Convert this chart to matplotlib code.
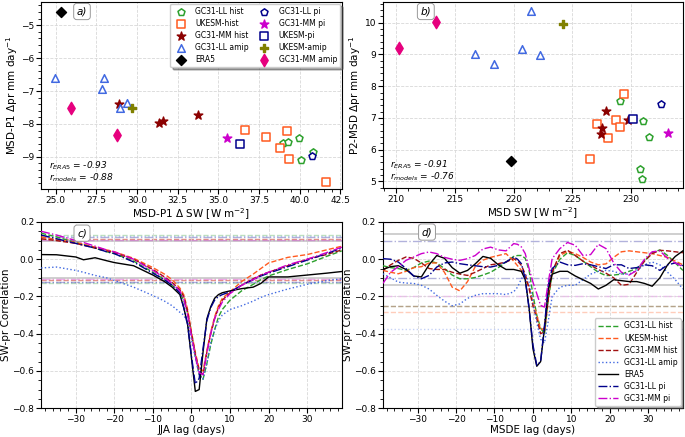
import numpy as np
import matplotlib.pyplot as plt

# ---- panel a: MSD-P1 (x = delta SW, y = delta pr) ----
ll_hist_a_x = [38.97, 39.30, 39.95, 40.84, 40.08]
ll_hist_a_y = [-8.57, -8.55, -8.44, -8.85, -9.11]
uk_hist_a_x = [36.65, 37.94, 39.21, 38.78, 39.38, 41.64]
uk_hist_a_y = [-8.18, -8.39, -8.20, -8.73, -9.05, -9.75]
mm_hist_a_x = [28.90, 31.33, 31.61, 33.73]
mm_hist_a_y = [-7.39, -7.98, -7.90, -7.74]
ll_amip_a_x = [24.98, 27.98, 27.85, 28.94, 29.37]
ll_amip_a_y = [-6.59, -6.59, -6.95, -7.51, -7.37]
era5_a_x = [25.35]
era5_a_y = [-4.59]
ll_pi_a_x = [40.75]
ll_pi_a_y = [-8.97]
mm_pi_a_x = [35.52]
mm_pi_a_y = [-8.44]
uk_pi_a_x = [36.34]
uk_pi_a_y = [-8.60]
uk_amip_a_x = [29.70]
uk_amip_a_y = [-7.51]
mm_amip_a_x = [25.92, 28.76]
mm_amip_a_y = [-7.51, -8.35]

# ---- panel b: P2-MSD ----
ll_hist_b_x = [229.03, 231.04, 231.55, 230.73, 230.90]
ll_hist_b_y = [7.54, 6.91, 6.39, 5.38, 5.08]
uk_hist_b_x = [229.37, 228.69, 227.05, 229.03, 228.04, 226.53]
uk_hist_b_y = [7.75, 6.93, 6.80, 6.71, 6.38, 5.69]
mm_hist_b_x = [227.84, 227.47, 227.39, 229.74]
mm_hist_b_y = [7.23, 6.67, 6.50, 6.94]
ll_amip_b_x = [221.46, 216.69, 218.28, 220.72, 222.20]
ll_amip_b_y = [10.37, 9.00, 8.71, 9.18, 8.98]
era5_b_x = [219.81]
era5_b_y = [5.65]
ll_pi_b_x = [232.52]
ll_pi_b_y = [7.44]
mm_pi_b_x = [233.09]
mm_pi_b_y = [6.52]
uk_pi_b_x = [230.14]
uk_pi_b_y = [6.96]
uk_amip_b_x = [224.21]
uk_amip_b_y = [9.95]
mm_amip_b_x = [210.23, 213.37]
mm_amip_b_y = [9.20, 10.01]

# ---- panel c: JJA lag correlation ----
lags_c = [-39, -35, -30, -28, -25, -22, -20, -15, -10, -7, -5, -3, -2, -1, 0,
          1, 2, 3, 4, 5, 6, 7, 8, 10, 13, 16, 18, 20, 25, 30, 35, 39]
ll_hist_c = [0.14, 0.12, 0.09, 0.08, 0.06, 0.04, 0.03, -0.01, -0.07, -0.11, -0.14,
             -0.18, -0.22, -0.29, -0.40, -0.52, -0.62, -0.645, -0.56, -0.46, -0.38,
             -0.31, -0.27, -0.22, -0.17, -0.135, -0.11, -0.09, -0.055, -0.025, 0.015, 0.045]
uk_hist_c = [0.12, 0.105, 0.09, 0.08, 0.065, 0.05, 0.04, 0.005, -0.045, -0.08, -0.11,
             -0.155, -0.19, -0.27, -0.39, -0.50, -0.59, -0.60, -0.49, -0.39, -0.31,
             -0.25, -0.21, -0.175, -0.12, -0.08, -0.05, -0.02, 0.01, 0.025, 0.05, 0.07]
mm_hist_c = [0.11, 0.10, 0.085, 0.075, 0.06, 0.045, 0.035, 0.0, -0.055, -0.095, -0.125,
             -0.165, -0.20, -0.28, -0.40, -0.51, -0.60, -0.62, -0.50, -0.40, -0.32,
             -0.26, -0.22, -0.18, -0.14, -0.105, -0.085, -0.07, -0.035, 0.0, 0.025, 0.05]
ll_amip_c = [-0.047, -0.042, -0.06, -0.07, -0.087, -0.10, -0.114, -0.15, -0.195, -0.225,
             -0.25, -0.285, -0.30, -0.34, -0.43, -0.53, -0.62, -0.645, -0.56, -0.45,
             -0.38, -0.33, -0.30, -0.27, -0.25, -0.225, -0.205, -0.19, -0.16, -0.135,
             -0.115, -0.105]
era5_c = [0.025, 0.024, 0.012, -0.003, 0.008, -0.008, -0.018, -0.035, -0.085, -0.12,
          -0.15, -0.19, -0.26, -0.35, -0.53, -0.71, -0.70, -0.50, -0.32, -0.255, -0.21,
          -0.19, -0.18, -0.17, -0.158, -0.15, -0.13, -0.095, -0.095, -0.085, -0.075, -0.066]
ll_pi_c = [0.13, 0.11, 0.085, 0.075, 0.06, 0.04, 0.03, -0.015, -0.075, -0.11, -0.14,
           -0.18, -0.26, -0.35, -0.52, -0.67, -0.64, -0.48, -0.33, -0.26, -0.22, -0.20,
           -0.19, -0.175, -0.14, -0.11, -0.09, -0.075, -0.04, -0.005, 0.03, 0.06]
mm_pi_c = [0.15, 0.13, 0.10, 0.09, 0.07, 0.05, 0.04, 0.0, -0.06, -0.10, -0.13, -0.17,
           -0.21, -0.30, -0.41, -0.52, -0.61, -0.62, -0.50, -0.40, -0.32, -0.27, -0.23,
           -0.185, -0.14, -0.11, -0.085, -0.07, -0.03, 0.0, 0.035, 0.065]

# ---- panel d: MSDE lag correlation ----
lags_d = [-39, -37, -35, -33, -31, -29, -27, -25, -23, -21, -19, -17, -15, -13, -11,
          -9, -7, -5, -4, -3, -2, -1, 0, 1, 2, 3, 4, 5, 7, 9, 11, 13, 15, 17, 19, 21,
          23, 25, 27, 29, 31, 33, 35, 37, 39]
ll_hist_d = [-0.035, -0.045, -0.05, -0.06, -0.045, -0.02, -0.01, -0.02, -0.05, -0.085,
             -0.105, -0.105, -0.098, -0.085, -0.07, -0.045, -0.015, 0.015, 0.02, 0.02,
             0.005, -0.06, -0.19, -0.30, -0.37, -0.40, -0.22, -0.08, 0.0, 0.035, 0.02,
             -0.01, -0.04, -0.07, -0.088, -0.085, -0.08, -0.065, -0.05, -0.01, 0.035,
             0.05, 0.02, -0.02, -0.06]
uk_hist_d = [-0.06, -0.07, -0.078, -0.065, -0.045, -0.04, -0.02, -0.02, -0.07, -0.15,
             -0.17, -0.12, -0.04, -0.005, 0.01, 0.02, 0.03, -0.01, -0.035, -0.06, -0.10,
             -0.15, -0.23, -0.30, -0.38, -0.37, -0.20, -0.07, 0.02, 0.042, 0.03, 0.01,
             -0.015, -0.03, -0.025, 0.01, 0.04, 0.045, 0.04, 0.035, 0.03, 0.02, 0.01,
             -0.01, -0.03]
mm_hist_d = [-0.06, -0.03, -0.006, 0.012, 0.005, -0.02, -0.05, -0.055, -0.055, -0.07,
             -0.08, -0.087, -0.07, -0.05, -0.03, -0.024, -0.015, 0.003, -0.01, -0.033,
             -0.08, -0.158, -0.25, -0.32, -0.40, -0.39, -0.21, -0.07, 0.03, 0.048, 0.02,
             -0.01, -0.033, -0.055, -0.075, -0.10, -0.14, -0.135, -0.07, -0.01, 0.03,
             0.048, 0.045, 0.04, 0.035]
ll_amip_d = [-0.078, -0.10, -0.123, -0.128, -0.13, -0.14, -0.16, -0.194, -0.225, -0.25,
             -0.24, -0.21, -0.194, -0.185, -0.185, -0.185, -0.19, -0.175, -0.15, -0.105,
             -0.078, -0.123, -0.23, -0.34, -0.43, -0.45, -0.33, -0.20, -0.15, -0.14,
             -0.14, -0.11, -0.08, -0.065, -0.06, -0.065, -0.08, -0.08, -0.06, -0.03,
             -0.015, -0.03, -0.07, -0.11, -0.16]
era5_d = [-0.055, -0.04, -0.035, -0.055, -0.09, -0.095, -0.03, 0.02, 0.005, -0.045,
          -0.075, -0.06, -0.025, 0.015, 0.005, -0.03, -0.055, -0.055, -0.06, -0.065,
          -0.11, -0.26, -0.48, -0.575, -0.55, -0.37, -0.16, -0.08, -0.065, -0.065, -0.09,
          -0.11, -0.13, -0.16, -0.14, -0.11, -0.115, -0.12, -0.12, -0.13, -0.145, -0.10,
          -0.03, 0.015, 0.045]
ll_pi_d = [0.003, 0.0, -0.015, -0.05, -0.09, -0.105, -0.087, -0.042, -0.02, -0.015,
           -0.024, -0.03, -0.035, -0.04, -0.042, -0.033, -0.015, 0.012, 0.0, -0.024,
           -0.105, -0.266, -0.46, -0.57, -0.55, -0.356, -0.14, -0.05, -0.015, -0.03,
           -0.033, -0.024, -0.03, -0.04, -0.05, -0.03, -0.03, -0.05, -0.045, -0.03,
           -0.035, -0.06, -0.03, -0.02, -0.035]
mm_pi_d = [-0.13, -0.07, -0.04, -0.006, 0.012, 0.03, 0.039, 0.03, 0.01, 0.0, -0.006,
           0.003, 0.02, 0.055, 0.065, 0.05, 0.045, 0.084, 0.08, 0.066, 0.03, -0.05,
           -0.123, -0.185, -0.248, -0.257, -0.123, 0.003, 0.057, 0.09, 0.075, 0.02,
           0.025, 0.08, 0.057, -0.02, -0.07, -0.085, -0.06, 0.0, 0.04, 0.045, 0.005,
           -0.02, -0.04]

# significance levels (one per series)
sig_c = {"GC31-LL hist": 0.13, "UKESM-hist": 0.11, "GC31-MM hist": 0.11,
         "GC31-LL amip": 0.125, "ERA5": 0.10, "GC31-LL pi": 0.12, "GC31-MM pi": 0.105}
sig_d = {"GC31-LL hist": 0.25, "UKESM-hist": 0.285, "GC31-MM hist": 0.25,
         "GC31-LL amip": 0.375, "ERA5": 0.137, "GC31-LL pi": 0.10, "GC31-MM pi": 0.20}

# styles
scatter_styles = {
    "GC31-LL hist": dict(marker="p", color="#2ca02c", hollow=True, s=28),
    "UKESM-hist": dict(marker="s", color="#ff5a1f", hollow=True, s=30),
    "GC31-MM hist": dict(marker="*", color="#8b0000", hollow=False, s=42),
    "GC31-LL amip": dict(marker="^", color="#4169e1", hollow=True, s=30),
    "ERA5": dict(marker="D", color="black", hollow=False, s=26),
    "GC31-LL pi": dict(marker="p", color="#00008b", hollow=True, s=28),
    "GC31-MM pi": dict(marker="*", color="#cc00cc", hollow=False, s=42),
    "UKESM-pi": dict(marker="s", color="#00008b", hollow=True, s=30),
    "UKESM-amip": dict(marker="P", color="#808000", hollow=False, s=32),
    "GC31-MM amip": dict(marker="d", color="#e6007e", hollow=False, s=40),
}

line_styles = {
    "GC31-LL hist": dict(color="#2ca02c", ls="--"),
    "UKESM-hist": dict(color="#ff5a1f", ls="--"),
    "GC31-MM hist": dict(color="#a01010", ls="--"),
    "GC31-LL amip": dict(color="#4169e1", ls=":"),
    "ERA5": dict(color="black", ls="-"),
    "GC31-LL pi": dict(color="#00008b", ls="-."),
    "GC31-MM pi": dict(color="#cc00cc", ls="-."),
}

TICK_FS = 6.5
LABEL_FS = 7.5


def scatter_panel(ax, series, xlabel, ylabel, r_era5, r_models, tag, xlim, ylim,
                  legend=False):
    for name, (xs, ys) in series.items():
        st = scatter_styles[name]
        if st["hollow"]:
            ax.scatter(xs, ys, marker=st["marker"], s=st["s"], facecolors="white",
                       edgecolors=st["color"], linewidths=1.1, label=name, zorder=3)
        else:
            ax.scatter(xs, ys, marker=st["marker"], s=st["s"], color=st["color"],
                       label=name, zorder=3)

    ax.set_xlim(*xlim)
    ax.set_ylim(*ylim)
    ax.set_xlabel(xlabel, fontsize=LABEL_FS, labelpad=1)
    ax.set_ylabel(ylabel, fontsize=LABEL_FS, labelpad=1)
    ax.tick_params(axis="both", labelsize=TICK_FS, pad=1.5)
    ax.minorticks_on()
    ax.grid(linestyle="--", color="#d8d8d8", linewidth=0.6)

    ax.text(0.025, 0.125, f"$r_{{ERA5}}$ = {r_era5}", transform=ax.transAxes,
            fontsize=6.5, style="italic", va="center")
    ax.text(0.025, 0.06, f"$r_{{models}}$ = {r_models}", transform=ax.transAxes,
            fontsize=6.5, style="italic", va="center")
    ax.text(tag[0], tag[1], tag[2], transform=ax.transAxes, fontsize=7.5,
            style="italic", ha="center", va="center",
            bbox=dict(boxstyle="round,pad=0.3", fc="white", ec="#999999", lw=0.7))

    if legend:
        ax.legend(ncol=2, fontsize=5.5, loc="upper right", shadow=True,
                  framealpha=1, borderpad=0.4, handletextpad=0.9,
                  columnspacing=1.0, labelspacing=0.4, borderaxespad=0.2)


def corr_panel(ax, lags, series, sig, xlabel, tag, legend=False):
    for name, vals in series.items():
        st = line_styles[name]
        level = sig[name]
        if name == "ERA5":
            for lv in (level, -level):
                ax.axhline(lv, color="#bbbbbb", ls="-", lw=1.4, alpha=0.7, zorder=1)
        else:
            for lv in (level, -level):
                ax.axhline(lv, color=st["color"], ls=st["ls"], lw=1.0, alpha=0.3,
                           zorder=1)

    for name, vals in series.items():
        st = line_styles[name]
        ax.plot(lags, vals, color=st["color"], linestyle=st["ls"], lw=1.0,
                label=name, zorder=3)

    ax.set_xlim(-39, 39)
    ax.set_ylim(-0.8, 0.2)
    ax.set_xlabel(xlabel, fontsize=LABEL_FS, labelpad=1)
    ax.set_ylabel("SW-pr Correlation", fontsize=LABEL_FS, labelpad=1)
    ax.tick_params(axis="both", labelsize=TICK_FS, pad=1.5)
    ax.minorticks_on()
    ax.grid(linestyle="--", color="#d8d8d8", linewidth=0.6)
    ax.text(tag[0], tag[1], tag[2], transform=ax.transAxes, fontsize=7.5,
            style="italic", ha="center", va="center", zorder=5,
            bbox=dict(boxstyle="round,pad=0.3", fc="white", ec="#999999", lw=0.7))

    if legend:
        ax.legend(fontsize=5.5, loc="lower right", shadow=True, framealpha=1,
                  borderpad=0.4, labelspacing=0.4, handlelength=2.6,
                  borderaxespad=0.3)


fig = plt.figure(figsize=(6.85, 4.37), dpi=100)

ax_a = fig.add_axes([0.060, 0.568, 0.439, 0.427])
ax_b = fig.add_axes([0.559, 0.570, 0.438, 0.425])
ax_c = fig.add_axes([0.060, 0.066, 0.439, 0.426])
ax_d = fig.add_axes([0.559, 0.066, 0.438, 0.426])

scatter_panel(
    ax_a,
    {
        "GC31-LL hist": (ll_hist_a_x, ll_hist_a_y),
        "UKESM-hist": (uk_hist_a_x, uk_hist_a_y),
        "GC31-MM hist": (mm_hist_a_x, mm_hist_a_y),
        "GC31-LL amip": (ll_amip_a_x, ll_amip_a_y),
        "ERA5": (era5_a_x, era5_a_y),
        "GC31-LL pi": (ll_pi_a_x, ll_pi_a_y),
        "GC31-MM pi": (mm_pi_a_x, mm_pi_a_y),
        "UKESM-pi": (uk_pi_a_x, uk_pi_a_y),
        "UKESM-amip": (uk_amip_a_x, uk_amip_a_y),
        "GC31-MM amip": (mm_amip_a_x, mm_amip_a_y),
    },
    "MSD-P1 Δ SW [W m$^{-2}$]",
    "MSD-P1 Δpr mm day$^{-1}$",
    "-0.93", "-0.88",
    (0.136, 0.95, "a)"),
    (24.1, 42.6), (-9.97, -4.3),
    legend=True
)

scatter_panel(
    ax_b,
    {
        "GC31-LL hist": (ll_hist_b_x, ll_hist_b_y),
        "UKESM-hist": (uk_hist_b_x, uk_hist_b_y),
        "GC31-MM hist": (mm_hist_b_x, mm_hist_b_y),
        "GC31-LL amip": (ll_amip_b_x, ll_amip_b_y),
        "ERA5": (era5_b_x, era5_b_y),
        "GC31-LL pi": (ll_pi_b_x, ll_pi_b_y),
        "GC31-MM pi": (mm_pi_b_x, mm_pi_b_y),
        "UKESM-pi": (uk_pi_b_x, uk_pi_b_y),
        "UKESM-amip": (uk_amip_b_x, uk_amip_b_y),
        "GC31-MM amip": (mm_amip_b_x, mm_amip_b_y),
    },
    "MSD SW [W m$^{-2}$]",
    "P2-MSD Δpr mm day$^{-1}$",
    "-0.91", "-0.76",
    (0.143, 0.95, "b)"),
    (208.87, 234.4), (4.79, 10.65)
)

corr_panel(
    ax_c, lags_c,
    {
        "GC31-LL hist": ll_hist_c,
        "UKESM-hist": uk_hist_c,
        "GC31-MM hist": mm_hist_c,
        "GC31-LL amip": ll_amip_c,
        "ERA5": era5_c,
        "GC31-LL pi": ll_pi_c,
        "GC31-MM pi": mm_pi_c,
    },
    sig_c, "JJA lag (days)", (0.136, 0.94, "c)")
)

corr_panel(
    ax_d, lags_d,
    {
        "GC31-LL hist": ll_hist_d,
        "UKESM-hist": uk_hist_d,
        "GC31-MM hist": mm_hist_d,
        "GC31-LL amip": ll_amip_d,
        "ERA5": era5_d,
        "GC31-LL pi": ll_pi_d,
        "GC31-MM pi": mm_pi_d,
    },
    sig_d, "MSDE lag (days)", (0.147, 0.946, "d)"),
    legend=True
)

fig.savefig("out.png", dpi=100)
